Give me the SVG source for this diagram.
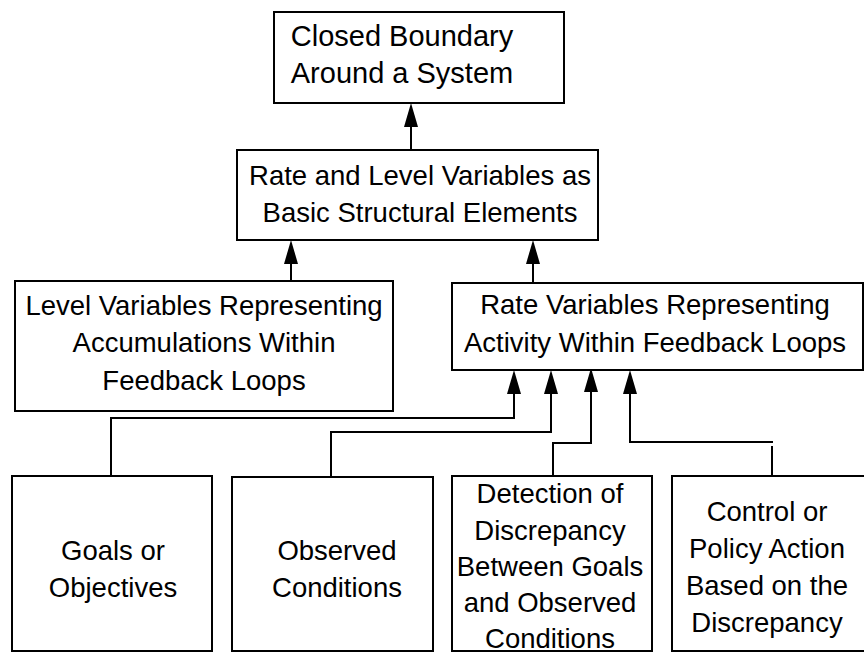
<svg xmlns="http://www.w3.org/2000/svg" width="864" height="653" viewBox="0 0 864 653">
  <style>
    .box { fill: #ffffff; stroke: #000000; stroke-width: 2; }
    .lbl { font-family: "Liberation Sans", Arial, Helvetica, sans-serif; font-size: 27.5px; fill: #000000; text-anchor: middle; }
    .big { font-size: 29px; }
    .wire { fill: none; stroke: #000000; stroke-width: 2; }
    .arrow { marker-end: url(#head); }
  </style>
  <defs>
    <!-- filled arrowhead; tip sits 10px beyond the end of the line -->
    <marker id="head" viewBox="0 0 24 14" refX="14" refY="7" markerWidth="24" markerHeight="14" markerUnits="userSpaceOnUse" orient="auto">
      <path d="M0,0 L24,7 L0,14 Z" fill="#000000"/>
    </marker>
  </defs>
  <rect width="864" height="653" fill="#ffffff"/>

  <g id="connectors">
    <path class="wire arrow" d="M411,150 V113"/>
    <path class="wire arrow" d="M291,281 V250"/>
    <path class="wire arrow" d="M533,283 V250"/>
    <path class="wire arrow" d="M111,476 V418 H514 V380"/>
    <path class="wire arrow" d="M331,477 V432 H551 V380"/>
    <path class="wire arrow" d="M553,476 V443 H591 V378"/>
    <path class="wire" d="M772,476 V446"/>
    <path class="wire arrow" d="M773,442 H630 V380"/>
  </g>

  <g id="closed-boundary">
    <rect class="box" x="274" y="12" width="290" height="91"/>
    <text class="lbl big"><tspan x="402" y="46">Closed Boundary</tspan><tspan x="402" y="83">Around a System</tspan></text>
  </g>

  <g id="rate-and-level">
    <rect class="box" x="237" y="150" width="361" height="90"/>
    <text class="lbl"><tspan x="420" y="185">Rate and Level Variables as</tspan><tspan x="420" y="222">Basic Structural Elements</tspan></text>
  </g>

  <g id="level-variables">
    <rect class="box" x="15" y="281" width="378" height="130"/>
    <text class="lbl"><tspan x="204" y="315">Level Variables Representing</tspan><tspan x="204" y="352">Accumulations Within</tspan><tspan x="204" y="390">Feedback Loops</tspan></text>
  </g>

  <g id="rate-variables">
    <rect class="box" x="452" y="283" width="411" height="87"/>
    <text class="lbl"><tspan x="655" y="314">Rate Variables Representing</tspan><tspan x="655" y="352">Activity Within Feedback Loops</tspan></text>
  </g>

  <g id="goals">
    <rect class="box" x="12" y="476" width="200" height="175"/>
    <text class="lbl"><tspan x="113" y="560">Goals or</tspan><tspan x="113" y="597">Objectives</tspan></text>
  </g>

  <g id="observed">
    <rect class="box" x="232" y="477" width="201" height="174"/>
    <text class="lbl"><tspan x="337" y="560">Observed</tspan><tspan x="337" y="597">Conditions</tspan></text>
  </g>

  <g id="discrepancy-detection">
    <rect class="box" x="452" y="476" width="200" height="175"/>
    <text class="lbl"><tspan x="550" y="503">Detection of</tspan><tspan x="550" y="540">Discrepancy</tspan><tspan x="550" y="576">Between Goals</tspan><tspan x="550" y="612">and Observed</tspan><tspan x="550" y="648">Conditions</tspan></text>
  </g>

  <g id="policy-action">
    <rect class="box" x="672" y="476" width="194" height="175"/>
    <text class="lbl"><tspan x="767" y="521">Control or</tspan><tspan x="767" y="558">Policy Action</tspan><tspan x="767" y="595">Based on the</tspan><tspan x="767" y="632">Discrepancy</tspan></text>
  </g>
</svg>
